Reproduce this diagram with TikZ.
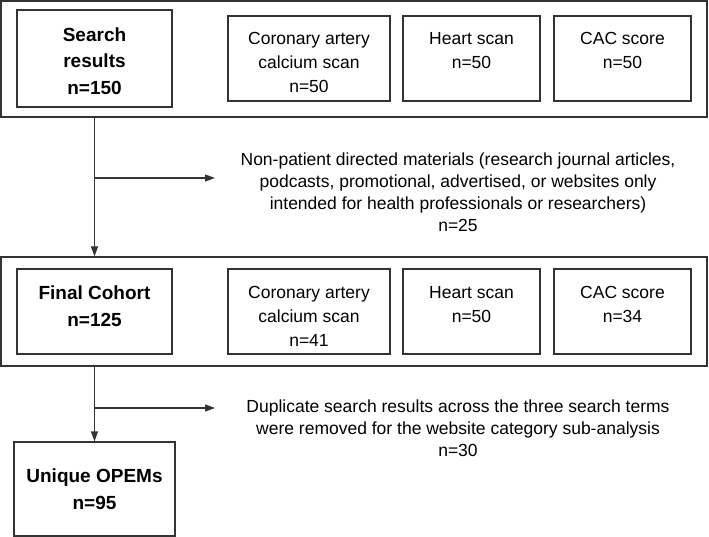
\documentclass[tikz,border=0pt]{standalone}
\usepackage{fontspec}
\setmainfont{Liberation Sans}
\usepackage{tikz}
\usetikzlibrary{arrows.meta}
\newcommand\toppad{\rule{0pt}{21pt}}
\newcommand\headpad{\rule{0pt}{19pt}}
\newcommand\botpad{\rule[-11pt]{0pt}{11pt}}

\begin{document}
\begin{tikzpicture}[x=1pt,y=-1pt,
  line width=1.2pt,
  every node/.style={inner sep=0pt},
  frame/.style={draw=black!80,minimum width=706pt,minimum height=#1},
  headbox/.style={draw=black!80,align=center,font=\fontsize{19}{26.5}\selectfont\bfseries},
  termbox/.style={draw=black!80,align=center,minimum height=85pt,font=\fontsize{17.5}{24}\selectfont},
  note/.style={align=center,font=\fontsize{17.5}{22}\selectfont},
  flow/.style={draw=black!80,-{Triangle[length=10pt,width=7pt]}}]
\useasboundingbox (0,0) rectangle (709,537);
% first row
\node[frame=116pt] (row1) at (354,59) {};
\node[headbox,minimum width=155pt,minimum height=97pt] (search) at (94.5,58.5) {\headpad Search\\results\\n=150};
\node[termbox,minimum width=162pt] (cac1) at (309,58.5) {\toppad Coronary artery\\calcium scan\\n=50};
\node[termbox,minimum width=137pt] (heart1) at (471.5,58.5) {\toppad Heart scan\\n=50\\\phantom{n}};
\node[termbox,minimum width=137pt] (score1) at (622.5,58.5) {\toppad CAC score\\n=50\\\phantom{n}};
% excluded
\node[note] (excl1) at (458,192.5) {Non-patient directed materials (research journal articles,\\podcasts, promotional, advertised, or websites only\\intended for health professionals or researchers)\\n=25};
% second row
\node[frame=109pt] (row2) at (354,311.5) {};
\node[headbox,minimum width=155pt,minimum height=85pt] (cohort) at (94.5,311.5) {Final Cohort\\n=125\botpad};
\node[termbox,minimum width=162pt] (cac2) at (309,311.5) {\toppad Coronary artery\\calcium scan\\n=41};
\node[termbox,minimum width=137pt] (heart2) at (471.5,311.5) {\toppad Heart scan\\n=50\\\phantom{n}};
\node[termbox,minimum width=137pt] (score2) at (622.5,311.5) {\toppad CAC score\\n=34\\\phantom{n}};
% duplicates
\node[note] (excl2) at (458,428.5) {Duplicate search results across the three search terms\\were removed for the website category sub-analysis\\n=30};
\node[headbox,minimum width=161pt,minimum height=94pt] (unique) at (94.5,489) {Unique OPEMs\\n=95};
% connectors
\coordinate (b1) at (94.5,178);
\coordinate (a1) at (215,178);
\coordinate (b2) at (94.5,408);
\coordinate (a2) at (215,408);
\draw[flow] (search |- row1.south) -- (search |- row2.north);
\draw[flow] (b1) -- (a1);
\draw[flow] (search |- row2.south) -- (unique.north);
\draw[flow] (b2) -- (a2);
\end{tikzpicture}
\end{document}
